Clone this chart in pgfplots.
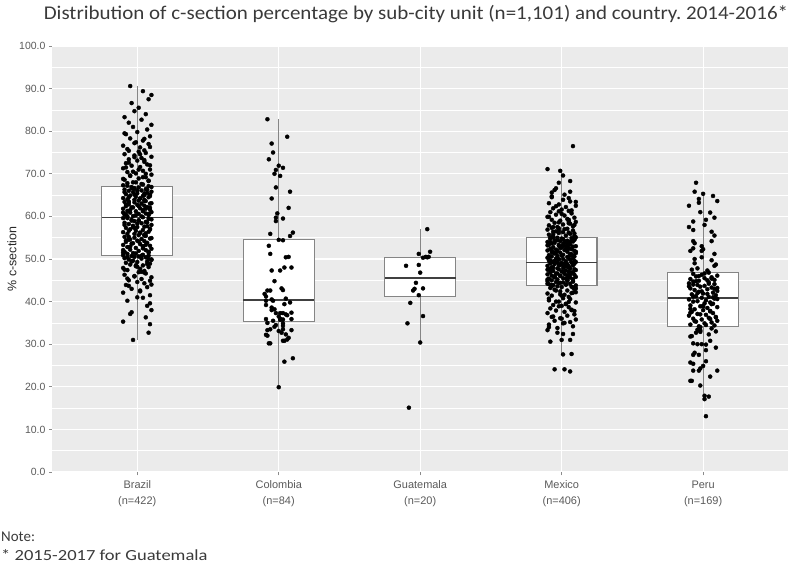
\documentclass[border=0pt]{standalone}
\usepackage{fontspec}
\setmainfont{Carlito}
\newfontfamily\arialf{Liberation Sans}
\usepackage{pgfplots}
\pgfplotsset{compat=1.18}
\usepgfplotslibrary{statistics}
\definecolor{panel}{HTML}{EBEBEB}
\definecolor{ticktxt}{HTML}{5A5A5A}
\definecolor{boxline}{HTML}{858585}
\definecolor{medline}{HTML}{404040}
\definecolor{titletxt}{HTML}{3A3A3A}
\frenchspacing
\pgfplotsset{jit/.style={only marks, mark=*, mark size=2.0bp, mark options={draw=black, fill=black}},
  bx/.style={draw=boxline, fill=white, line width=1.1bp, solid}}

\begin{document}
\begin{tikzpicture}
\useasboundingbox (0,0) rectangle (789bp,568bp);
\begin{axis}[
  at={(52.4bp,96bp)}, anchor=south west,
  scale only axis, width=735.6bp, height=426bp,
  xmin=0.4, xmax=5.6, ymin=0, ymax=100,
  axis background/.style={fill=panel},
  axis line style={draw=none},
  tick pos=left, tick align=outside,
  major tick length=3.5bp, minor tick length=0pt,
  tick style={draw=ticktxt!70, line width=0.8bp},
  xtick={1,2,3,4,5},
  xticklabels={Brazil\\(n=422), Colombia\\(n=84), Guatemala\\(n=20), Mexico\\(n=406), Peru\\(n=169)},
  xticklabel style={align=center, font=\arialf\fontsize{11}{16}\selectfont, text=ticktxt, yshift=-2bp},
  ytick={0,10,...,100}, minor ytick={5,15,...,95},
  yticklabel style={font=\arialf\fontsize{10.5}{12}\selectfont, text=ticktxt,
    /pgf/number format/fixed, /pgf/number format/fixed zerofill,
    /pgf/number format/precision=1, /pgf/number format/assume math mode=true},
  grid=both,
  major grid style={white, line width=1.1bp},
  minor grid style={white, line width=0.55bp},
  boxplot/draw direction=y,
]
% boxes
\addplot[bx, boxplot prepared={draw position=1, lower whisker=31.0, lower quartile=50.9, median=59.7, upper quartile=67.1, upper whisker=90.6, box extend=0.5, whisker extend=0, every median/.style={draw=medline, line width=1.6bp}}] coordinates {};
\addplot[bx, boxplot prepared={draw position=2, lower whisker=19.9, lower quartile=35.4, median=40.4, upper quartile=54.6, upper whisker=82.8, box extend=0.5, whisker extend=0, every median/.style={draw=medline, line width=1.6bp}}] coordinates {};
\addplot[bx, boxplot prepared={draw position=3, lower whisker=30.4, lower quartile=41.1, median=45.6, upper quartile=50.4, upper whisker=57.0, box extend=0.5, whisker extend=0, every median/.style={draw=medline, line width=1.6bp}}] coordinates {};
\addplot[bx, boxplot prepared={draw position=4, lower whisker=27.6, lower quartile=43.7, median=49.2, upper quartile=55.0, upper whisker=71.1, box extend=0.5, whisker extend=0, every median/.style={draw=medline, line width=1.6bp}}] coordinates {};
\addplot[bx, boxplot prepared={draw position=5, lower whisker=17.1, lower quartile=34.1, median=40.8, upper quartile=46.9, upper whisker=65.3, box extend=0.5, whisker extend=0, every median/.style={draw=medline, line width=1.6bp}}] coordinates {};

% jittered points: Brazil
\addplot[jit] coordinates {
(0.97,31.0)(1.08,32.7)(1.09,34.7)(0.90,35.3)(1.06,36.3)(0.95,37.1)(1.10,38.0)(1.09,39.6)(0.93,40.2)(1.04,40.9)
(1.09,41.5)(0.90,42.1)(1.02,42.6)(0.96,43.0)(1.07,43.4)(0.92,43.9)(1.05,44.3)(1.00,44.6)(0.94,45.0)(1.03,45.3)
(1.10,45.7)(0.98,46.0)(0.91,46.3)(1.06,46.6)(1.01,46.9)
(1.05,47.2)(0.93,47.4)(1.02,47.7)(0.90,47.9)(1.08,48.1)(0.99,48.3)(1.04,48.5)(0.95,48.7)(1.09,48.9)(0.92,49.1)
(1.00,49.3)(1.07,49.4)(0.97,49.6)(1.10,49.8)(0.94,49.9)(1.03,50.1)(0.91,50.2)(1.06,50.4)(0.98,50.5)(1.01,50.6)
(0.96,50.7)(1.08,50.8)(0.90,50.9)(1.04,51.0)(0.93,51.2)
(0.97,51.4)(1.08,51.5)(0.91,51.7)(1.01,51.9)(1.06,52.1)(0.95,52.2)(1.10,52.4)(0.99,52.6)(0.93,52.8)(1.04,52.9)
(1.09,53.1)(0.90,53.3)(1.02,53.5)(0.96,53.6)(1.07,53.8)(0.92,54.0)(1.05,54.2)(1.00,54.3)(0.94,54.5)(1.03,54.7)
(1.10,54.9)(0.98,55.0)(0.91,55.2)(1.06,55.4)(1.01,55.6)
(1.05,55.7)(0.93,55.9)(1.02,56.1)(0.90,56.3)(1.08,56.4)(0.99,56.6)(1.04,56.8)(0.95,57.0)(1.09,57.1)(0.92,57.3)
(1.00,57.5)(1.07,57.7)(0.97,57.8)(1.10,58.0)(0.94,58.2)(1.03,58.4)(0.91,58.5)(1.06,58.7)(0.98,58.9)(1.01,59.1)
(0.96,59.2)(1.08,59.4)(0.90,59.6)(1.04,59.8)(0.93,60.0)
(0.97,60.1)(1.08,60.3)(0.91,60.4)(1.01,60.6)(1.06,60.7)(0.95,60.9)(1.10,61.0)(0.99,61.2)(0.93,61.3)(1.04,61.5)
(1.09,61.6)(0.90,61.8)(1.02,61.9)(0.96,62.1)(1.07,62.2)(0.92,62.4)(1.05,62.5)(1.00,62.7)(0.94,62.8)(1.03,63.0)
(1.10,63.1)(0.98,63.3)(0.91,63.4)(1.06,63.6)(1.01,63.7)
(1.05,63.9)(0.93,64.0)(1.02,64.2)(0.90,64.3)(1.08,64.5)(0.99,64.6)(1.04,64.8)(0.95,64.9)(1.09,65.1)(0.92,65.2)
(1.00,65.4)(1.07,65.5)(0.97,65.7)(1.10,65.8)(0.94,66.0)(1.03,66.1)(0.91,66.3)(1.06,66.4)(0.98,66.6)(1.01,66.8)
(0.96,66.9)(1.08,67.1)(0.90,67.3)(1.04,67.5)(0.93,67.8)
(0.97,68.0)(1.08,68.3)(0.91,68.6)(1.01,68.9)(1.06,69.2)(0.95,69.5)(1.10,69.8)(0.99,70.1)(0.93,70.4)(1.04,70.7)
(1.09,71.0)(0.90,71.3)(1.02,71.6)(0.96,71.9)(1.07,72.2)(0.92,72.5)(1.05,72.8)(1.00,73.1)(0.94,73.4)(1.03,73.7)
(1.10,74.0)(0.98,74.3)(0.91,74.6)(1.06,74.9)(1.01,75.2)
(1.05,75.5)(0.93,75.8)(1.02,76.2)(0.90,76.6)(1.08,77.0)(0.99,77.4)(1.04,77.8)(0.95,78.3)(1.09,78.8)(0.92,79.3)
(1.00,79.8)(1.07,80.4)(0.97,81.0)(1.10,81.5)(0.94,82.0)(1.03,82.7)(0.91,83.3)(1.06,84.0)(0.98,84.7)(1.01,85.5)
(0.96,86.6)(1.08,87.5)(1.10,88.5)(1.04,89.4)(0.95,90.6)
(1.02,42.4)(0.94,43.7)(1.09,44.9)(0.98,45.9)(1.05,46.8)(0.91,47.5)(1.00,48.2)(1.07,48.8)(0.96,49.4)(1.10,49.9)
(0.93,50.4)(1.03,50.8)(0.99,51.3)(1.08,51.7)(0.90,52.1)(1.04,52.5)(0.95,52.9)(1.06,53.3)(0.97,53.7)(1.01,54.1)
(0.92,54.4)(1.09,54.8)(0.94,55.2)(1.05,55.5)(0.98,55.9)
(1.02,56.2)(0.94,56.6)(1.09,56.9)(0.98,57.3)(1.05,57.6)(0.91,58.0)(1.00,58.3)(1.07,58.6)(0.96,59.0)(1.10,59.3)
(0.93,59.6)(1.03,60.0)(0.99,60.3)(1.08,60.6)(0.90,60.9)(1.04,61.2)(0.95,61.5)(1.06,61.8)(0.97,62.1)(1.01,62.4)
(0.92,62.7)(1.09,63.0)(0.94,63.3)(1.05,63.6)(0.98,63.9)
(1.02,64.2)(0.94,64.5)(1.09,64.8)(0.98,65.1)(1.05,65.4)(0.91,65.7)(1.00,66.0)(1.07,66.3)(0.96,66.6)(1.10,66.9)
(0.93,67.2)(1.03,67.6)(0.99,68.0)(1.08,68.4)(0.90,68.8)(1.04,69.2)(0.95,69.6)(1.06,70.0)(0.97,70.5)(1.01,71.0)
(0.92,71.5)(1.09,72.0)(0.94,72.6)(1.05,73.2)(0.98,73.9)
(1.02,74.6)(0.94,75.4)(1.09,76.3)(0.98,77.2)(1.05,78.2)(0.91,79.5)(1.00,41.0)(1.07,39.0)(0.96,37.5)(1.10,44.0)
(0.93,45.4)(1.03,47.0)(0.99,48.5)(1.08,50.0)(0.90,51.5)(1.04,53.0)(0.95,54.6)(1.06,56.0)(0.97,57.5)(1.01,59.0)
(0.92,60.5)(1.09,62.0)(0.94,63.5)(1.05,65.0)(0.98,66.5)
};
% Colombia
\addplot[jit] coordinates {
(1.92,82.8)(2.06,78.7)(1.95,77.1)(1.96,75.0)(1.93,73.4)(2.00,71.9)(2.03,71.4)(1.98,70.9)(1.97,70.0)(2.01,69.5)
(1.98,66.8)(2.08,65.8)(1.95,64.2)(2.07,62.0)(1.99,60.7)(1.98,59.7)(2.03,59.5)(1.98,58.9)(2.10,56.2)(1.94,55.9)
(2.08,55.4)(2.00,54.5)(2.03,54.4)(1.93,53.1)(1.94,51.2)(2.05,50.4)(2.07,50.5)(1.95,47.3)(2.01,47.3)(2.04,48.0)
(2.09,48.0)(2.02,43.1)(2.03,42.7)(1.92,42.6)(1.94,42.6)(1.90,41.8)(1.91,41.2)(1.95,40.5)(1.96,40.2)(2.05,40.7)
(1.91,40.2)(2.04,39.4)(1.91,39.2)(1.95,38.0)(1.97,38.2)(1.98,37.3)(2.01,37.3)(2.03,37.3)(2.05,37.0)(2.09,37.4)
(2.00,36.5)(2.01,35.7)(2.03,35.8)(2.09,35.9)(1.91,35.9)(1.92,35.0)(1.96,35.5)(2.03,34.9)(1.98,34.5)(2.03,34.3)
(1.97,34.1)(1.94,33.5)(2.00,33.1)(2.03,33.5)(2.09,33.3)(1.92,33.3)(1.91,32.2)(1.92,32.0)(2.02,32.7)(2.05,32.3)
(2.06,31.1)(2.07,31.5)(2.03,30.8)(2.04,30.8)(1.93,30.2)(1.94,30.2)(2.10,26.7)(2.04,25.9)(2.00,19.9)(2.06,36.8)
(1.95,38.6)(2.08,39.8)(2.01,36.0)(1.97,44.8)
};
% Guatemala
\addplot[jit] coordinates {
(3.05,57.0)(2.99,51.2)(3.07,51.7)(3.02,50.3)(3.04,50.5)(3.06,50.5)(3.05,50.4)(2.90,48.4)(2.99,48.6)(3.00,46.8)
(2.97,44.4)(2.95,42.6)(2.96,43.0)(3.02,43.1)(2.99,41.5)(2.93,39.7)(3.02,36.6)(2.91,34.9)(3.00,30.4)(2.92,15.1)
};
% Mexico
\addplot[jit] coordinates {
(4.06,23.6)(3.95,24.1)(4.02,24.1)(4.01,27.6)(4.07,27.7)(3.92,30.6)(4.00,31.0)(4.06,31.0)(4.08,32.4)(4.01,32.4)
(3.97,32.7)(3.90,33.3)
(3.97,33.8)(4.08,34.2)(3.91,34.6)(4.01,34.9)(4.06,35.2)(3.95,35.5)(4.10,35.8)(3.99,36.1)(3.93,36.4)(4.04,36.7)
(4.09,37.0)(3.90,37.3)(4.02,37.6)(3.96,37.9)(4.07,38.1)(3.92,38.4)(4.05,38.7)(4.00,39.0)(3.94,39.2)(4.03,39.5)
(4.10,39.8)(3.98,40.0)(3.91,40.3)(4.06,40.6)(4.01,40.8)(4.05,41.1)(3.93,41.4)(4.02,41.6)(3.90,41.9)(4.08,42.1)
(3.99,42.4)(4.04,42.6)(3.95,42.8)(4.09,43.0)(3.92,43.2)(4.00,43.4)(4.07,43.5)(3.97,43.6)
(4.10,43.8)(3.94,43.9)(4.03,44.0)(3.91,44.1)(4.06,44.2)(3.98,44.4)(4.01,44.5)(3.96,44.6)(4.08,44.7)(3.90,44.8)
(4.04,44.9)(3.93,45.0)(3.97,45.2)(4.08,45.3)(3.91,45.4)(4.01,45.5)(4.06,45.6)(3.95,45.7)(4.10,45.8)(3.99,46.0)
(3.93,46.1)(4.04,46.2)(4.09,46.3)(3.90,46.4)(4.02,46.5)(3.96,46.6)(4.07,46.8)(3.92,46.9)(4.05,47.0)(4.00,47.1)
(3.94,47.2)(4.03,47.3)(4.10,47.4)(3.98,47.6)(3.91,47.7)(4.06,47.8)(4.01,47.9)(4.05,48.0)(3.93,48.1)(4.02,48.2)
(3.90,48.4)(4.08,48.5)(3.99,48.6)(4.04,48.7)(3.95,48.8)(4.09,48.9)(3.92,49.0)(4.00,49.1)(4.07,49.15)(3.97,49.2)
(4.10,49.3)(3.94,49.4)(4.03,49.5)(3.91,49.6)(4.06,49.8)(3.98,49.9)(4.01,50.0)(3.96,50.1)(4.08,50.2)(3.90,50.3)
(4.04,50.5)(3.93,50.6)(3.97,50.7)(4.08,50.8)(3.91,50.9)(4.01,51.0)(4.06,51.2)(3.95,51.3)(4.10,51.4)(3.99,51.5)
(3.93,51.6)(4.04,51.7)(4.09,51.9)(3.90,52.0)(4.02,52.1)(3.96,52.2)(4.07,52.3)(3.92,52.4)(4.05,52.6)(4.00,52.7)
(3.94,52.8)(4.03,52.9)(4.10,53.0)(3.98,53.1)(3.91,53.3)(4.06,53.4)(4.01,53.5)(4.05,53.6)(3.93,53.7)(4.02,53.8)
(3.90,54.0)(4.08,54.1)(3.99,54.2)(4.04,54.3)(3.95,54.4)(4.09,54.5)(3.92,54.7)(4.00,54.8)(4.07,54.9)(3.97,55.0)
(4.10,55.1)(3.94,55.3)(4.03,55.5)(3.91,55.7)(4.06,55.9)(3.98,56.1)(4.01,56.3)(3.96,56.5)(4.08,56.7)(3.90,56.9)
(4.04,57.1)(3.93,57.3)(3.97,57.5)(4.08,57.7)(3.91,57.9)(4.01,58.1)(4.06,58.3)(3.95,58.5)(4.10,58.7)(3.99,59.0)
(3.93,59.2)(4.04,59.4)(4.09,59.7)(3.90,59.9)(4.02,60.2)(3.96,60.4)(4.07,60.7)(3.92,61.0)(4.05,61.3)(4.00,61.6)
(3.94,61.9)(4.03,62.2)(4.10,62.5)(3.98,62.8)(3.91,63.1)(4.06,63.5)(4.01,63.9)(4.05,64.3)(3.93,64.7)(4.02,65.1)
(3.93,65.6)(4.06,65.8)(3.95,66.2)
(3.96,66.6)(3.98,67.9)(4.06,68.3)(4.01,69.6)(3.99,70.7)(3.90,71.1)(4.08,76.5)
(4.02,35.0)(3.94,36.5)(4.09,37.8)(3.98,38.9)(4.05,39.9)(3.91,40.7)(4.00,41.4)(4.07,42.0)(3.96,42.6)(4.10,43.1)
(3.93,43.6)(4.03,44.0)(3.99,44.4)(4.08,44.8)(3.90,45.2)(4.04,45.6)(3.95,45.9)(4.06,46.3)(3.97,46.6)(4.01,47.0)
(3.92,47.3)(4.09,47.6)(3.94,48.0)(4.05,48.3)(3.98,48.6)
(4.02,48.9)(3.94,49.3)(4.09,49.6)(3.98,49.9)(4.05,50.2)(3.91,50.5)(4.00,50.8)(4.07,51.1)(3.96,51.4)(4.10,51.7)
(3.93,52.0)(4.03,52.3)(3.99,52.6)(4.08,52.9)(3.90,53.2)(4.04,53.5)(3.95,53.8)(4.06,54.1)(3.97,54.4)(4.01,54.7)
(3.92,55.0)(4.09,55.4)(3.94,55.8)(4.05,56.2)(3.98,56.6)
(4.02,57.0)(3.94,57.5)(4.09,58.0)(3.98,58.6)(4.05,59.2)(3.91,59.9)(4.00,60.6)(4.07,61.4)(3.96,62.4)(4.10,63.4)
(3.93,64.5)(4.03,39.4)(3.99,41.7)(4.08,43.3)(3.90,44.2)(4.04,45.0)(3.95,45.8)(4.06,46.8)(3.97,47.8)(4.01,48.8)
(3.92,49.7)(4.09,50.6)(3.94,51.5)(4.05,52.4)(3.98,53.3)
(4.02,54.2)(3.94,55.1)(4.09,56.0)(3.98,57.2)(4.05,58.4)(3.91,34.0)(4.00,36.0)(4.07,38.0)(3.96,40.0)(4.10,42.2)
(3.93,43.9)(4.03,45.4)(3.99,46.1)(4.08,46.9)(3.90,47.5)(4.04,48.2)(3.95,49.5)(4.06,50.9)(3.97,51.9)(4.01,53.1)
(3.92,53.9)(4.09,54.6)(3.94,56.4)(4.05,58.8)(3.98,61.2)
};
% Peru
\addplot[jit] coordinates {
(4.95,67.9)(4.94,65.8)(5.00,65.3)(5.07,64.8)(4.97,64.1)(5.10,63.6)(4.90,62.5)(4.97,63.2)(4.98,61.0)(5.05,60.9)
(5.02,59.2)(5.08,59.7)(4.93,58.8)(5.01,58.0)(4.93,56.8)(5.06,56.4)(5.06,54.2)(4.93,54.2)(4.94,53.7)(4.91,51.9)
(4.93,52.5)(5.00,52.3)(4.99,51.9)(5.08,51.2)
(5.03,47.3)(4.96,47.8)(5.08,48.4)(4.94,49.0)(5.06,49.7)(4.99,50.4)
(4.97,34.2)(5.08,34.4)(4.91,34.6)(5.01,34.9)(5.06,35.1)(4.95,35.3)(5.10,35.5)(4.99,35.8)(4.93,36.0)(5.04,36.2)
(5.09,36.4)(4.90,36.7)(5.02,36.9)(4.96,37.1)(5.07,37.3)(4.92,37.6)(5.05,37.8)(5.00,38.0)(4.94,38.2)(5.03,38.5)
(5.10,38.7)(4.98,38.9)(4.91,39.1)(5.06,39.4)(5.01,39.6)(5.05,39.8)(4.93,40.0)(5.02,40.3)(4.90,40.5)(5.08,40.7)
(4.99,40.9)(5.04,41.1)(4.95,41.3)(5.09,41.5)(4.92,41.7)(5.00,41.9)(5.07,42.1)(4.97,42.3)(5.10,42.5)(4.94,42.7)
(5.03,42.9)(4.91,43.1)(5.06,43.3)(4.98,43.5)(5.01,43.7)(4.96,43.9)(5.08,44.1)(4.90,44.3)(5.04,44.5)(4.93,44.7)
(4.97,44.9)(5.08,45.1)(4.91,45.3)(5.01,45.5)(5.06,45.7)(4.95,45.9)(5.10,46.1)(4.99,46.3)(4.93,46.5)(5.04,46.8)
(5.04,32.3)(4.95,32.7)(5.09,33.0)(4.96,33.4)(5.06,33.7)(4.98,34.0)
(4.91,31.8)(4.92,31.9)(4.93,30.2)(4.96,30.0)(4.99,30.0)(5.02,29.9)(4.93,27.5)(4.97,27.5)(5.02,28.6)(4.91,25.7)
(4.93,25.4)(5.00,24.9)(4.98,24.3)(4.97,23.8)(4.93,23.8)(5.10,23.8)(5.05,22.4)(4.91,21.4)(4.92,21.4)(4.98,20.3)
(5.01,17.9)(5.01,17.1)(5.04,17.7)(5.02,13.1)
(5.02,34.5)(4.94,35.4)(5.09,36.3)(4.98,37.0)(5.05,37.7)(4.91,38.3)(5.00,38.9)(5.07,39.5)(4.96,40.1)(5.10,40.6)
(4.93,41.2)(5.03,41.8)(4.99,42.4)(5.08,43.0)(4.90,43.6)(5.04,44.2)(4.95,44.8)(5.06,45.4)(4.97,46.0)(5.01,46.6)
(4.92,47.5)(5.09,48.7)(4.94,50.0)(5.05,30.8)(4.98,32.9)
(5.02,26.0)(4.94,28.0)(5.09,29.2)(4.98,33.3)(5.05,35.9)(4.91,37.4)(5.00,39.0)(5.07,41.0)(4.96,42.0)(5.10,43.2)
(4.93,44.0)(5.03,45.0)(4.99,53.0)(5.08,55.5)(4.90,57.5)
};
\end{axis}
\node[rotate=90, anchor=center, inner sep=0pt, font=\arialf\fontsize{12.5}{14}\selectfont, text=black!85] at (12bp,309bp) {\% c-section};
\node[anchor=base, inner sep=0pt, font=\fontsize{19.5}{22}\selectfont, text=titletxt, xscale=1.08] at (416bp,548bp)
  {Distribution of c-section percentage by sub-city unit (n=1,101) and country. 2014-2016*};
\node[anchor=base west, inner sep=0pt, font=\fontsize{15}{18}\selectfont, text=titletxt] at (1bp,26.3bp) {Note:};
\node[anchor=base west, inner sep=0pt, font=\fontsize{15.5}{18}\selectfont, text=titletxt, xscale=1.2] at (1bp,7.5bp) {* 2015-2017 for Guatemala};
\end{tikzpicture}
\end{document}
